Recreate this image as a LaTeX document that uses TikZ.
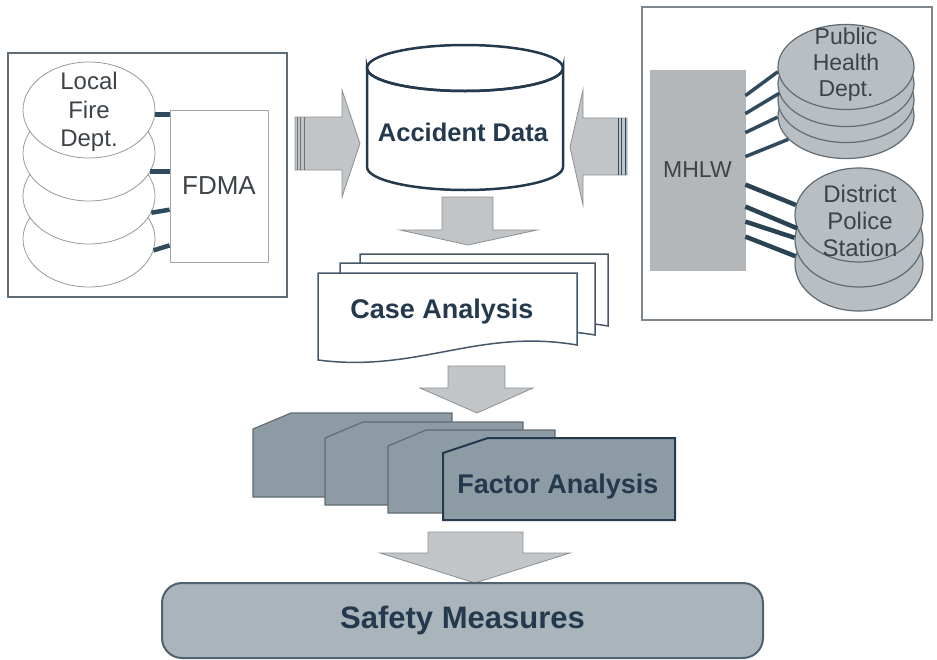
\documentclass[tikz,border=0pt]{standalone}
\usepackage{fontspec}
\setmainfont{Liberation Sans}
\usetikzlibrary{shapes.geometric,calc}

\definecolor{navy}{HTML}{24394D}
\definecolor{slate}{HTML}{8C9BA4}
\definecolor{arrowgray}{HTML}{C2C5C7}
\definecolor{arrowedge}{HTML}{8B9094}
\definecolor{diskgray}{HTML}{B8BEC2}
\definecolor{mhlwgray}{HTML}{B3B7B9}
\definecolor{framegray}{HTML}{5F6C75}
\definecolor{framelight}{HTML}{7E888E}
\definecolor{labelgray}{HTML}{3D4348}
\definecolor{linkblue}{HTML}{2F4A5C}
\definecolor{safetyfill}{HTML}{A9B4BB}

\def \linkWidth {4.5pt}

\tikzset{
  outerbox/.style={draw=framegray, line width=2.2pt},
  fdisk/.style={ellipse, draw=gray!80, fill=white, line width=0.8pt, inner sep=0pt, minimum width=132, minimum height=96},
  fdmabox/.style={draw=gray!70, fill=white, line width=0.8pt, minimum width=98, minimum height=152, text=labelgray, font=\fontsize{26}{30}\selectfont},
  mhlwbox/.style={draw=gray!60, fill=mhlwgray, line width=0.8pt, minimum width=95, minimum height=200, text=labelgray, font=\fontsize{23}{27}\selectfont},
  stackdisk/.style={ellipse, draw=framegray, fill=diskgray, line width=1.2pt, inner sep=0pt},
  smalllabel/.style={text=labelgray, align=center, inner sep=0pt, font=\fontsize{24}{28.5}\selectfont},
  boldlabel/.style={text=navy, inner sep=0pt, font=\bfseries\fontsize{27}{30}\selectfont},
  fdlink/.style={draw=linkblue, line width=\linkWidth},
  phlink/.style={draw=linkblue, line width=3.5pt},
  pslink/.style={draw=linkblue!90!black, line width=\linkWidth},
  blockarrow/.style={fill=arrowgray, draw=arrowedge, line width=0.8pt},
  stripe/.style={draw=arrowedge!80!black, line width=1pt},
  cylline/.style={draw=navy, line width=2.5pt},
  casepage/.style={draw=navy!85, fill=white, line width=1.5pt},
  factorcard/.style={draw=slate!70!black, fill=slate, line width=1.2pt},
  safetybox/.style={draw=navy!80, fill=safetyfill, line width=2pt, rounded corners=20pt, minimum width=601, minimum height=75, text=navy, font=\bfseries\fontsize{31}{34}\selectfont}
}

\newcommand\casesheet[3]{\draw[casepage, shift={(#1,#2)}] (0,0) -- (#3,0) -- (#3,72) .. controls (#3-99,55) and (100,100) .. (0,87) -- cycle;}

\begin{document}
\begin{tikzpicture}[x=1pt,y=-1pt]
  \useasboundingbox (0,0) rectangle (937,659);

  \draw[outerbox] (8,53) rectangle (287,297);
  \foreach \i/\y in {4/239,3/196,2/153,1/110}
    \node[fdisk] (fd\i) at (89,\y) {};
  \node[smalllabel] (fdlabel) at (89,112) {Local\\Fire\\Dept.};
  \node[fdmabox] (fdma) at (219,186) {FDMA};
  \foreach \i/\a/\d in {1/-4/0,2/-17/0,3/-15/-3,4/-10/-5}
    \draw[fdlink] (fd\i.\a) -- ($(fdma.west |- fd\i.\a)+(0,\d)$);

  \draw[outerbox, draw=framelight] (642,7) rectangle (932,320);
  \node[mhlwbox] (mhlw) at (697.5,170) {MHLW};
  \foreach \i/\y in {4/116,3/100,2/84,1/67}
    \node[stackdisk, minimum width=136, minimum height=85] (ph\i) at (846,\y) {};
  \node[smalllabel, font=\fontsize{23}{26}\selectfont] (phlabel) at (846,65) {Public\\Health\\Dept.};
  \foreach \i/\y in {3/264,2/240,1/215}
    \node[stackdisk, minimum width=128, minimum height=94] (ps\i) at (859,\y) {};
  \node[smalllabel, font=\fontsize{24}{27}\selectfont] (pslabel) at (860,221) {District\\Police\\Station};
  \foreach \o/\e in {26/ph1.184,44/ph2.188,63/ph4.181,87/ph4.202}
    \draw[phlink] ($(mhlw.north east)+(0,\o)$) -- (\e);
  \foreach \o/\e in {115/ps1.171,137/ps1.192,152/ps2.178,167/ps3.173}
    \draw[pslink] ($(mhlw.north east)+(0,\o)$) -- (\e);

  \draw[cylline, fill=white] (367,68) -- (367,167) arc[start angle=180, end angle=0, x radius=98, y radius=23] -- (563,68) arc[start angle=0, end angle=180, x radius=98, y radius=23] -- cycle;
  \draw[cylline] (465,68) ellipse[x radius=98, y radius=23];
  \node[boldlabel, font=\bfseries\fontsize{25.5}{30}\selectfont] (data) at (463,132) {Accident Data};

  \draw[blockarrow] (295,117) -- (342,117) -- (342,90) -- (360,143.5) -- (342,197) -- (342,170) -- (295,170) -- cycle;
  \foreach \x in {297,300.5,304}
    \draw[stripe] (\x,117) -- (\x,170);
  \draw[blockarrow] (627,118) -- (583,118) -- (583,90) -- (570,147) -- (583,205) -- (583,175) -- (627,175) -- cycle;
  \foreach \x in {618,621.5,625}
    \draw[stripe, draw=linkblue] (\x,118) -- (\x,175);
  \draw[blockarrow] (442,197) -- (493,197) -- (493,230) -- (537,230) -- (468,245) -- (400,230) -- (442,230) -- cycle;

  \casesheet{360}{254}{248}
  \casesheet{340}{263}{255}
  \casesheet{318}{273}{259}
  \node[boldlabel] (cases) at (442,312) {Case Analysis};

  \draw[blockarrow] (448,366) -- (505,366) -- (505,388) -- (533,388) -- (477,413) -- (420,388) -- (448,388) -- cycle;

  \foreach \xa/\ya/\xb/\yb in {253/413/452/497,325/422/523/505,388/430/555/513}
    \draw[factorcard] (\xa,\ya+16) -- (\xa+38,\ya) -- (\xb,\ya) -- (\xb,\yb) -- (\xa,\yb) -- cycle;
  \draw[factorcard, draw=navy, line width=2pt] (443,453) -- (488,438) -- (675,438) -- (675,520) -- (443,520) -- cycle;
  \node[boldlabel] (factor) at (558,487) {Factor Analysis};

  \draw[blockarrow] (428,532) -- (523,532) -- (523,553) -- (570,553) -- (475,583) -- (380,553) -- (428,553) -- cycle;
  \node[safetybox] (safety) at (462.5,620.5) {Safety Measures};
\end{tikzpicture}
\end{document}
